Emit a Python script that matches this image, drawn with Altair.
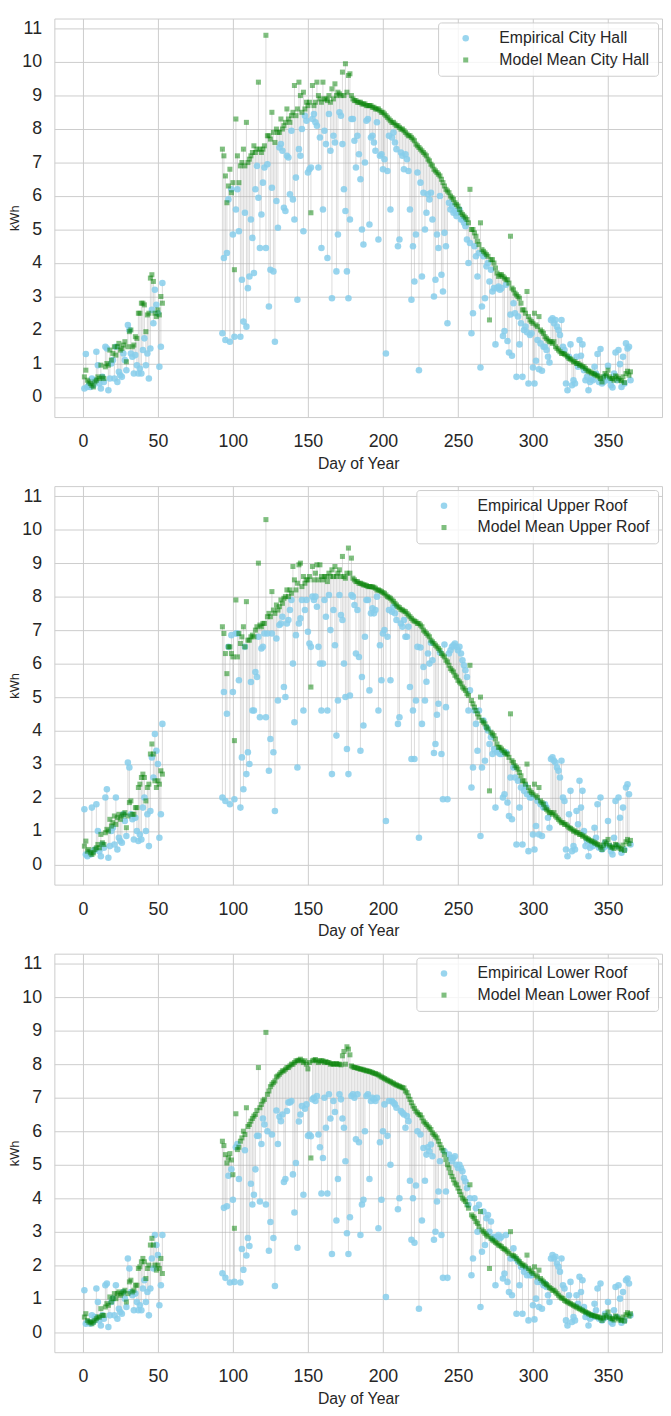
import altair as alt
import pandas as pd

# ---------------- data ----------------
DAYS = list(range(1, 54)) + list(range(93, 366))
X_TICKS = [0, 50, 100, 150, 200, 250, 300, 350]
Y_TICKS = list(range(0, 12))
SITES = ["City Hall", "Upper Roof", "Lower Roof"]

# ---- City Hall ----
EMP_CITY_EARLY = [
    0.25, 1.28, 0.3, 0.35, 0.3, 0.55, 0.35, 0.5, 1.35, 0.95,
    0.4, 0.25, 0.6, 0.45, 1.5, 1.45, 0.2, 0.55, 1.0, 1.1,
    0.55, 1.5, 0.45, 0.75, 0.65, 0.6, 1.3, 1.1, 0.8, 2.15,
    2.0, 1.3, 1.2, 0.7, 1.25, 0.95, 0.7, 0.85, 0.7, 1.4,
    1.75, 0.95, 1.3, 0.55, 1.45, 2.6, 2.2, 3.2, 2.75, 2.5,
    0.9, 1.5, 3.4]
MOD_CITY_EARLY = [
    0.6, 0.8, 0.5, 0.45, 0.4, 0.35, 0.3, 0.45, 0.5, 0.6,
    0.55, 0.95, 0.6, 0.55, 0.9, 1.0, 0.95, 1.4, 1.1, 1.3,
    1.5, 1.25, 1.5, 1.6, 1.4, 1.45, 1.55, 1.65, 1.05, 1.5,
    1.95, 2.0, 1.5, 1.55, 1.8, 1.75, 2.5, 2.5, 2.8, 2.8,
    2.75, 1.95, 2.45, 2.5, 3.55, 3.65, 3.45, 2.5, 2.4, 2.6,
    2.45, 3.0, 2.8]
EMP_CITY_MAIN = [
    1.9, 4.15, 1.7, 4.3, 5.9, 1.65, 6.2, 4.85, 1.8, 5.6,
    6.2, 4.95, 1.8, 3.5, 2.25, 5.5, 2.1, 3.25, 3.6, 5.3,
    4.75, 3.7, 6.2, 6.9, 5.95, 4.45, 5.45, 6.4, 6.85, 4.45,
    6.95, 2.7, 3.8, 6.25, 3.75, 1.65, 5.85, 5.05, 7.45, 7.55,
    7.35, 5.65, 5.55, 7.2, 7.15, 6.05, 7.95, 5.9, 5.3, 6.55,
    2.9, 7.4, 7.2, 8.0, 4.95, 8.4, 8.25, 6.7, 6.8, 6.85,
    8.3, 8.45, 8.2, 8.1, 6.85, 7.75, 4.45, 5.6, 7.95, 7.55,
    4.15, 8.45, 7.35, 2.95, 7.8, 7.6, 3.75, 4.85, 8.5, 8.4,
    7.55, 6.2, 5.55, 3.75, 2.95, 5.3, 8.3, 8.3, 7.65, 6.85,
    7.8, 7.25, 6.5, 5.0, 4.55, 7.0, 8.25, 8.3, 5.15, 7.75,
    7.8, 7.6, 7.35, 8.2, 4.7, 7.2, 7.25, 6.8, 7.1, 1.3,
    6.75, 7.8, 5.6, 7.75, 7.9, 7.6, 7.4, 4.5, 4.7, 7.3,
    7.2, 6.8, 7.25, 7.1, 6.75, 5.6, 2.9, 4.5, 3.45, 4.85,
    6.7, 0.8, 6.4, 3.6, 6.1, 5.0, 5.5, 6.05, 5.9, 6.1,
    5.3, 3.0, 3.5, 4.85, 4.45, 6.0, 3.65, 3.15, 4.9, 4.5,
    2.2, 5.8, 5.6, 5.7, 5.5, 5.55, 5.4, 5.5, 5.6, 5.3,
    5.3, 5.2, 5.1, 4.7, 4.0, 4.6, 1.9, 2.5, 4.5, 4.2,
    3.6, 4.3, 0.88, 2.7, 4.2, 2.95, 3.9, 4.0, 3.45, 3.8,
    3.15, 3.25, 1.57, 3.25, 3.3, 3.2, 3.25, 1.82, 1.97, 3.35,
    1.67, 1.33, 2.46, 1.23, 2.8, 2.5, 0.6, 2.4, 1.57, 2.2,
    0.6, 2.0, 2.1, 1.93, 0.4, 1.85, 1.9, 0.88, 0.4, 1.08,
    1.7, 0.83, 1.6, 0.78, 1.5, 1.5, 1.4, 1.2, 1.03, 2.3,
    2.35, 2.2, 2.3, 2.1, 2.0, 1.85, 2.3, 1.5, 1.4, 0.4,
    0.2, 1.2, 1.57, 0.35, 0.5, 0.4, 1.2, 0.9, 1.7, 1.23,
    1.57, 0.8, 0.5, 0.6, 0.2, 0.45, 0.53, 0.5, 0.9, 0.7,
    1.28, 0.45, 1.43, 0.4, 0.45, 0.6, 0.5, 0.93, 0.5, 0.35,
    0.28, 0.7, 1.33, 0.5, 1.4, 0.98, 0.3, 1.2, 0.4, 1.6,
    1.45, 1.5, 0.5]
MOD_CITY_MAIN = [
    7.4, 7.2, 6.6, 5.8, 6.3, 6.8, 6.1, 6.4, 3.8, 8.3,
    7.2, 6.4, 6.9, 7.0, 7.4, 6.9, 8.2, 7.0, 7.1, 7.2,
    7.3, 7.5, 7.3, 7.4, 9.4, 7.4, 7.3, 7.4, 7.5, 10.8,
    7.8, 7.8, 7.7, 8.5, 7.9, 7.6, 8.0, 7.9, 7.9, 8.3,
    8.0, 8.1, 8.2, 8.6, 8.3, 8.2, 8.4, 8.5, 9.3, 8.4,
    8.6, 9.4, 9.0, 8.5, 9.1, 8.6, 8.8, 8.7, 8.8, 5.5,
    9.3, 8.7, 8.8, 9.4, 9.0, 8.9, 8.8, 9.4, 8.9, 8.9,
    8.85, 9.0, 8.8, 9.2, 8.9, 9.35, 9.0, 9.1, 9.05, 9.0,
    9.7, 9.0, 9.95, 9.1, 9.6, 9.65, 9.0, 8.9, 8.85, 8.85,
    8.8, 8.8, 8.8, 8.75, 8.75, 8.75, 8.7, 8.7, 8.7, 8.7,
    8.65, 8.65, 8.6, 8.6, 8.6, 8.55, 8.5, 8.5, 8.45, 8.4,
    8.35, 8.3, 8.25, 8.2, 8.2, 8.15, 8.1, 8.1, 8.05, 8.0,
    8.0, 7.95, 7.9, 7.85, 7.8, 7.8, 7.75, 7.7, 7.65, 7.55,
    7.5, 7.45, 7.4, 7.35, 7.3, 7.25, 7.2, 7.1, 7.05, 6.95,
    6.9, 6.8, 6.75, 6.7, 6.65, 6.6, 6.5, 6.4, 6.3, 6.2,
    6.15, 6.1, 6.0, 5.95, 5.9, 5.8, 5.75, 5.7, 5.6, 5.5,
    5.45, 5.4, 5.35, 5.3, 5.2, 6.2, 5.0, 5.0, 4.9, 4.8,
    4.65, 4.55, 5.2, 4.4, 4.35, 4.3, 4.25, 4.2, 2.3, 4.1,
    4.1, 4.0, 3.85, 3.7, 3.6, 3.65, 3.65, 3.6, 3.55, 3.5,
    3.5, 3.4, 4.8, 3.25, 3.2, 3.1, 3.05, 3.0, 2.95, 2.8,
    2.6, 2.6, 2.5, 3.15, 2.4, 2.3, 2.25, 2.2, 2.5, 2.15,
    2.1, 2.4, 2.0, 1.95, 1.9, 1.8, 1.75, 1.7, 1.65, 1.65,
    1.6, 1.65, 1.5, 1.45, 1.4, 1.35, 1.3, 1.3, 1.28, 1.25,
    1.2, 1.15, 1.13, 1.1, 1.05, 1.05, 1.0, 1.0, 0.95, 0.95,
    0.9, 0.9, 0.85, 0.8, 0.77, 0.75, 0.72, 0.7, 0.68, 0.65,
    0.63, 0.6, 0.55, 0.45, 0.6, 0.7, 0.65, 0.8, 0.6, 0.55,
    0.55, 0.5, 0.63, 0.6, 0.55, 0.5, 0.48, 0.6, 0.43, 0.7,
    0.77, 0.65, 0.75]

# ---- Upper Roof ----
EMP_UPPER_EARLY = [
    1.65, 0.3, 0.25, 0.35, 0.3, 1.7, 0.4, 0.45, 1.8, 1.0,
    0.4, 0.25, 0.6, 0.5, 2.0, 2.25, 0.2, 0.55, 1.0, 1.1,
    0.6, 2.0, 0.45, 0.8, 0.7, 0.65, 1.5, 1.3, 0.85, 3.05,
    2.9, 1.5, 1.35, 0.75, 1.4, 1.0, 0.7, 0.9, 0.75, 1.7,
    2.0, 1.0, 1.5, 0.55, 1.6, 3.2, 2.6, 3.9, 3.4, 3.0,
    0.8, 1.5, 4.2]
MOD_UPPER_EARLY = [
    0.55, 0.7, 0.4, 0.45, 0.35, 0.3, 0.35, 0.45, 0.5, 0.6,
    0.5, 0.9, 0.65, 0.6, 0.95, 1.05, 1.0, 1.35, 1.15, 1.25,
    1.45, 1.2, 1.4, 1.5, 1.35, 1.45, 1.5, 1.55, 1.1, 1.45,
    1.85, 1.9, 1.5, 1.5, 1.7, 1.7, 2.3, 2.4, 2.6, 2.7,
    2.6, 1.9, 2.3, 2.4, 3.3, 3.6, 3.3, 2.5, 2.3, 2.5,
    2.4, 2.8, 2.7]
EMP_UPPER_MAIN = [
    2.0, 5.15, 1.9, 4.5, 6.5, 1.8, 6.85, 5.15, 1.95, 6.9,
    6.9, 5.5, 1.7, 3.2, 2.25, 6.5, 2.7, 3.35, 3.0, 5.45,
    4.6, 4.6, 5.75, 5.6, 6.8, 4.4, 6.45, 6.5, 6.9, 4.4,
    6.9, 2.8, 3.75, 6.9, 3.35, 1.6, 6.75, 4.9, 7.15, 7.2,
    7.4, 5.3, 5.0, 7.2, 7.3, 7.6, 7.9, 6.0, 4.25, 6.85,
    2.9, 7.2, 7.35, 7.9, 4.6, 7.6, 7.9, 6.95, 6.6, 6.5,
    8.0, 7.9, 8.0, 7.7, 6.5, 6.0, 4.6, 6.0, 7.9, 7.4,
    4.6, 8.05, 7.0, 2.7, 7.6, 6.55, 3.85, 4.9, 8.05, 7.45,
    7.3, 6.0, 5.0, 3.45, 2.7, 5.05, 8.05, 8.0, 7.75, 6.3,
    7.6, 6.2, 3.4, 5.6, 4.15, 6.8, 7.9, 7.9, 5.2, 7.5,
    7.65, 7.5, 7.6, 8.0, 4.6, 6.55, 5.5, 6.9, 7.0, 1.3,
    6.8, 7.6, 5.5, 7.55, 7.7, 7.5, 7.3, 4.2, 4.4, 7.2,
    7.1, 7.3, 6.8, 6.8, 7.1, 5.3, 3.15, 4.6, 3.15, 4.9,
    6.5, 0.8, 6.48, 4.2, 5.9, 4.9, 5.46, 6.3, 6.0, 6.62,
    6.1, 3.33, 3.6, 4.47, 4.8, 6.33, 3.3, 1.95, 6.57, 4.7,
    1.95, 6.3, 6.4, 6.5, 6.55, 6.6, 6.5, 6.4, 6.5, 6.3,
    6.1, 5.95, 5.8, 5.6, 4.6, 5.2, 2.3, 2.9, 4.6, 4.2,
    3.4, 4.6, 0.85, 2.9, 4.3, 3.1, 4.1, 4.0, 3.6, 3.8,
    3.3, 3.45, 1.7, 3.35, 3.4, 3.3, 3.3, 2.0, 2.1, 3.35,
    1.85, 1.45, 2.6, 1.35, 2.9, 2.6, 0.6, 2.5, 1.7, 2.3,
    0.6, 2.2, 2.35, 2.1, 0.4, 2.0, 2.0, 0.9, 0.45, 1.15,
    1.9, 0.9, 1.8, 0.85, 1.7, 1.8, 1.7, 1.4, 1.1, 3.15,
    3.2, 3.1, 3.05, 2.9, 2.8, 2.6, 3.1, 2.0, 1.9, 0.45,
    0.25, 1.5, 2.2, 0.4, 0.55, 0.45, 1.6, 1.2, 2.5, 1.7,
    2.2, 1.0, 0.55, 0.7, 0.25, 0.5, 0.6, 0.55, 1.1, 0.8,
    1.8, 0.5, 2.0, 0.45, 0.5, 0.65, 0.55, 1.3, 0.55, 0.4,
    0.3, 0.8, 1.9, 0.55, 2.0, 1.4, 0.35, 1.7, 0.45, 2.3,
    2.4, 2.1, 0.6]
MOD_UPPER_MAIN = [
    7.1, 6.9, 6.3, 5.7, 6.5, 6.5, 6.3, 6.2, 3.7, 7.9,
    6.2, 6.9, 6.6, 6.8, 7.1, 6.5, 7.85, 6.7, 6.7, 6.8,
    6.85, 6.8, 7.0, 7.1, 9.0, 7.15, 7.1, 7.2, 7.2, 10.3,
    7.4, 7.5, 7.4, 8.15, 7.6, 7.5, 7.75, 7.6, 7.7, 7.9,
    7.8, 7.95, 8.0, 8.2, 8.0, 8.2, 8.1, 8.9, 8.5, 8.2,
    8.4, 8.95, 9.0, 8.3, 8.6, 8.4, 8.5, 8.5, 8.6, 5.3,
    8.9, 8.5, 8.7, 8.95, 8.5, 8.95, 8.6, 8.5, 8.6, 8.6,
    8.45, 8.7, 8.6, 8.8, 8.6, 8.9, 8.6, 8.7, 8.8, 8.6,
    9.2, 8.6, 8.55, 8.7, 9.45, 8.7, 9.15, 8.55, 8.5, 8.45,
    8.45, 8.4, 8.4, 8.38, 8.35, 8.35, 8.33, 8.3, 8.3, 8.3,
    8.29, 8.28, 8.25, 8.2, 8.2, 8.18, 8.15, 8.12, 8.1, 8.05,
    8.0, 7.98, 7.95, 7.9, 7.86, 7.8, 7.75, 7.7, 7.67, 7.62,
    7.6, 7.57, 7.55, 7.5, 7.45, 7.4, 7.35, 7.3, 7.27, 7.25,
    7.2, 7.2, 7.15, 7.1, 7.0, 6.95, 6.9, 6.85, 6.8, 6.7,
    6.65, 6.6, 6.55, 6.5, 6.45, 6.4, 6.3, 6.25, 6.2, 6.1,
    6.05, 5.95, 5.85, 5.8, 5.75, 5.65, 5.6, 5.5, 5.45, 5.4,
    5.3, 5.25, 5.2, 5.1, 5.05, 5.95, 4.9, 4.8, 4.7, 4.6,
    4.5, 4.4, 5.0, 4.3, 4.25, 4.2, 4.1, 4.05, 2.2, 3.95,
    3.9, 3.85, 3.75, 3.6, 3.5, 3.5, 3.45, 3.4, 3.35, 3.3,
    3.3, 3.2, 4.5, 3.1, 3.05, 2.95, 2.9, 2.85, 2.75, 2.65,
    2.5, 2.5, 2.4, 3.0, 2.3, 2.2, 2.15, 2.1, 2.4, 2.05,
    2.0, 2.3, 1.9, 1.85, 1.8, 1.7, 1.65, 1.6, 1.55, 1.55,
    1.5, 1.55, 1.45, 1.4, 1.35, 1.3, 1.25, 1.25, 1.2, 1.2,
    1.15, 1.1, 1.08, 1.05, 1.0, 1.0, 0.95, 0.95, 0.9, 0.9,
    0.85, 0.85, 0.8, 0.78, 0.75, 0.72, 0.7, 0.68, 0.65, 0.63,
    0.6, 0.58, 0.52, 0.45, 0.58, 0.68, 0.62, 0.75, 0.58, 0.52,
    0.52, 0.48, 0.6, 0.58, 0.52, 0.48, 0.45, 0.58, 0.42, 0.68,
    0.75, 0.62, 0.72]

# ---- Lower Roof ----
EMP_LOWER_EARLY = [
    1.25, 0.25, 0.3, 0.3, 0.25, 0.5, 0.3, 0.45, 1.3, 0.9,
    0.35, 0.2, 0.5, 0.4, 1.4, 1.45, 0.15, 0.5, 0.9, 1.0,
    0.5, 1.4, 0.4, 0.7, 0.6, 0.55, 1.2, 1.0, 0.75, 2.2,
    1.9, 1.2, 1.1, 0.65, 1.15, 0.9, 0.65, 0.8, 0.65, 1.3,
    1.55, 0.9, 1.2, 0.5, 1.3, 2.2, 1.9, 2.9, 2.6, 2.3,
    0.8, 1.4, 2.9]
MOD_LOWER_EARLY = [
    0.45, 0.55, 0.35, 0.3, 0.3, 0.25, 0.3, 0.35, 0.4, 0.45,
    0.45, 0.7, 0.5, 0.5, 0.75, 0.85, 0.8, 1.05, 0.9, 1.0,
    1.15, 1.0, 1.15, 1.2, 1.1, 1.15, 1.2, 1.25, 0.9, 1.15,
    1.5, 1.55, 1.2, 1.25, 1.4, 1.4, 1.9, 1.95, 2.1, 2.2,
    2.1, 1.6, 1.9, 2.0, 2.6, 2.8, 2.6, 2.0, 1.85, 2.0,
    1.9, 2.2, 1.75]
EMP_LOWER_MAIN = [
    1.76, 3.71, 1.62, 3.76, 4.67, 1.48, 4.86, 3.95, 1.5, 5.52,
    5.62, 4.57, 1.48, 2.48, 1.86, 5.43, 2.29, 2.81, 2.57, 4.43,
    3.81, 4.1, 4.86, 5.86, 5.86, 3.9, 5.62, 6.38, 6.2, 3.81,
    6.0, 2.43, 3.29, 5.9, 2.81, 1.38, 6.62, 5.62, 6.43, 6.3,
    6.5, 4.48, 4.57, 6.6, 6.86, 6.86, 6.9, 4.71, 3.57, 5.05,
    2.52, 6.29, 6.5, 6.75, 4.1, 6.67, 6.8, 5.86, 5.9, 5.85,
    6.95, 7.0, 6.9, 7.05, 5.9, 5.52, 4.14, 5.2, 7.0, 6.1,
    4.14, 7.1, 6.38, 2.33, 6.9, 6.57, 3.33, 4.57, 7.1, 6.95,
    6.38, 6.1, 5.1, 2.95, 2.33, 3.43, 7.05, 7.1, 7.0, 5.76,
    7.1, 5.67, 2.9, 3.81, 3.95, 6.0, 7.05, 7.1, 4.57, 6.9,
    7.0, 6.95, 6.9, 7.0, 3.1, 5.67, 3.95, 6.0, 6.8, 1.05,
    5.86, 6.9, 5.0, 6.9, 6.85, 6.8, 6.7, 3.67, 4.0, 6.6,
    6.55, 6.5, 6.1, 6.45, 6.3, 4.52, 2.76, 4.0, 2.67, 4.38,
    6.0, 0.7, 5.9, 3.33, 5.5, 4.52, 5.3, 5.52, 5.4, 5.6,
    5.25, 2.76, 3.0, 3.9, 4.2, 5.1, 2.9, 1.62, 5.4, 4.2,
    1.62, 5.3, 5.2, 5.1, 5.2, 5.25, 5.0, 4.9, 5.0, 4.9,
    4.8, 4.6, 4.5, 4.3, 3.8, 4.0, 1.7, 2.2, 4.0, 3.7,
    3.0, 3.8, 0.75, 2.4, 3.6, 2.6, 3.4, 3.5, 3.0, 3.3,
    2.8, 2.85, 1.4, 2.85, 2.9, 2.8, 2.85, 1.6, 1.75, 2.9,
    1.5, 1.2, 2.2, 1.1, 2.5, 2.2, 0.55, 2.1, 1.4, 1.95,
    0.55, 1.8, 1.9, 1.7, 0.35, 1.7, 1.7, 0.8, 0.38, 1.0,
    1.5, 0.75, 1.5, 0.7, 1.4, 1.45, 1.35, 1.1, 0.9, 2.2,
    2.3, 2.2, 2.25, 2.05, 1.95, 1.8, 2.2, 1.4, 1.3, 0.35,
    0.2, 1.1, 1.5, 0.3, 0.45, 0.35, 1.1, 0.85, 1.65, 1.2,
    1.55, 0.75, 0.45, 0.55, 0.2, 0.4, 0.5, 0.45, 0.85, 0.65,
    1.3, 0.4, 1.45, 0.35, 0.4, 0.55, 0.45, 0.9, 0.45, 0.3,
    0.25, 0.65, 1.35, 0.45, 1.4, 1.0, 0.28, 1.2, 0.35, 1.55,
    1.6, 1.45, 0.5]
MOD_LOWER_MAIN = [
    5.7, 5.57, 5.3, 5.05, 5.2, 5.33, 5.14, 4.7, 3.1, 6.52,
    5.45, 5.52, 5.7, 5.8, 6.0, 5.9, 6.7, 6.14, 6.2, 6.3,
    6.38, 6.45, 6.5, 6.62, 7.9, 6.7, 6.8, 6.9, 6.95, 8.95,
    7.1, 7.2, 7.33, 7.4, 7.45, 7.5, 7.62, 7.65, 7.7, 7.75,
    7.8, 7.8, 7.85, 7.9, 7.9, 7.95, 8.0, 8.0, 8.05, 8.1,
    8.1, 8.12, 8.15, 8.1, 8.05, 8.1, 8.0, 7.86, 8.05, 5.2,
    8.1, 8.12, 8.14, 8.1, 8.05, 8.1, 8.1, 8.1, 8.05, 8.08,
    8.05, 8.05, 8.0, 8.02, 8.0, 8.0, 8.02, 8.0, 8.0, 7.98,
    8.25, 8.38, 8.0, 8.52, 8.45, 8.28, 7.95, 7.92, 7.9, 7.9,
    7.88, 7.87, 7.85, 7.85, 7.83, 7.82, 7.8, 7.8, 7.78, 7.77,
    7.75, 7.73, 7.72, 7.7, 7.68, 7.65, 7.62, 7.6, 7.57, 7.55,
    7.52, 7.5, 7.48, 7.45, 7.43, 7.4, 7.38, 7.36, 7.34, 7.32,
    7.3, 7.29, 7.2, 7.15, 7.05, 6.95, 6.85, 6.75, 6.68, 6.6,
    6.55, 6.5, 6.48, 6.4, 6.3, 6.25, 6.2, 6.15, 6.1, 6.05,
    5.95, 5.9, 5.85, 5.8, 5.7, 5.6, 5.5, 5.43, 5.3, 5.15,
    5.0, 4.9, 4.76, 4.65, 4.55, 4.45, 4.4, 4.3, 4.2, 4.1,
    4.0, 3.95, 3.9, 3.8, 3.7, 4.4, 3.5, 3.45, 3.4, 3.3,
    3.25, 3.15, 3.6, 3.05, 3.0, 2.95, 2.9, 2.85, 1.9, 2.8,
    2.75, 2.72, 2.68, 2.65, 2.6, 2.58, 2.55, 2.5, 2.48, 2.45,
    2.4, 2.35, 3.0, 2.3, 2.28, 2.25, 2.2, 2.15, 2.1, 2.05,
    2.0, 2.0, 1.95, 2.3, 1.9, 1.85, 1.8, 1.75, 1.95, 1.7,
    1.65, 1.85, 1.6, 1.55, 1.5, 1.45, 1.42, 1.38, 1.33, 1.3,
    1.25, 1.25, 1.2, 1.15, 1.1, 1.05, 1.02, 1.0, 0.95, 0.92,
    0.9, 0.87, 0.85, 0.82, 0.8, 0.77, 0.75, 0.72, 0.7, 0.67,
    0.65, 0.62, 0.6, 0.58, 0.55, 0.53, 0.5, 0.5, 0.48, 0.47,
    0.45, 0.45, 0.42, 0.35, 0.42, 0.5, 0.45, 0.6, 0.45, 0.4,
    0.4, 0.36, 0.48, 0.45, 0.4, 0.36, 0.35, 0.45, 0.33, 0.52,
    0.58, 0.48, 0.55]

EMPIRICAL = {
    "City Hall": EMP_CITY_EARLY + EMP_CITY_MAIN,
    "Upper Roof": EMP_UPPER_EARLY + EMP_UPPER_MAIN,
    "Lower Roof": EMP_LOWER_EARLY + EMP_LOWER_MAIN,
}
MODEL = {
    "City Hall": MOD_CITY_EARLY + MOD_CITY_MAIN,
    "Upper Roof": MOD_UPPER_EARLY + MOD_UPPER_MAIN,
    "Lower Roof": MOD_LOWER_EARLY + MOD_LOWER_MAIN,
}

FONT = "Liberation Sans"
EMP_COLOR = "#87CEEB"
MOD_COLOR = "#008000"

X_SCALE = alt.Scale(domain=[-19, 386], nice=False, zero=False)
Y_SCALE = alt.Scale(domain=[-0.6, 11.3], nice=False, zero=False)
X_AXIS = alt.Axis(values=X_TICKS, title="Day of Year", labelPadding=16, titlePadding=5,
                  titleFontSize=16)
Y_AXIS = alt.Axis(values=Y_TICKS, title="kWh", labelPadding=13, titlePadding=0,
                  titleFontSize=13)


def panel(site):
    emp = EMPIRICAL[site]
    mod = MODEL[site]
    assert len(emp) == len(DAYS), (site, "emp", len(emp))
    assert len(mod) == len(DAYS), (site, "mod", len(mod))
    e_lab = f"Empirical {site}"
    m_lab = f"Model Mean {site}"
    wide = pd.DataFrame({"day": DAYS, "emp": emp, "mod": mod})
    long = pd.concat([
        pd.DataFrame({"day": DAYS, "kwh": emp, "series": e_lab}),
        pd.DataFrame({"day": DAYS, "kwh": mod, "series": m_lab}),
    ], ignore_index=True)

    legend = alt.Legend(title=None, orient="top-right", offset=4)
    dom = [e_lab, m_lab]

    rules = alt.Chart(wide).mark_rule(color="#b0b0b0", strokeWidth=1, opacity=0.45).encode(
        x=alt.X("day:Q", scale=X_SCALE, axis=X_AXIS),
        y=alt.Y("emp:Q", scale=Y_SCALE, axis=Y_AXIS),
        y2="mod:Q",
    )
    pts = alt.Chart(long).mark_point(filled=True, strokeWidth=0).encode(
        x=alt.X("day:Q", scale=X_SCALE, axis=X_AXIS),
        y=alt.Y("kwh:Q", scale=Y_SCALE, axis=Y_AXIS),
        color=alt.Color("series:N", scale=alt.Scale(domain=dom, range=[EMP_COLOR, MOD_COLOR]), legend=legend),
        shape=alt.Shape("series:N", scale=alt.Scale(domain=dom, range=["circle", "square"]), legend=legend),
        opacity=alt.Opacity("series:N", scale=alt.Scale(domain=dom, range=[0.85, 0.5]), legend=legend),
        size=alt.Size("series:N", scale=alt.Scale(domain=dom, range=[44, 26]), legend=legend),
    )
    return alt.layer(rules, pts).properties(width=616, height=404)


chart = alt.vconcat(*[panel(s) for s in SITES], spacing=13).resolve_scale(
    color="independent", shape="independent", opacity="independent", size="independent"
).resolve_legend(
    color="independent", shape="independent", opacity="independent", size="independent"
).properties(
    padding=0, background="white"
).configure_view(
    stroke="#cccccc", strokeWidth=1
).configure_axis(
    labelFont=FONT, titleFont=FONT, labelFontSize=18,
    labelColor="#262626", titleColor="#262626", titleFontWeight="normal",
    gridColor="#cccccc", gridWidth=1, domain=False, ticks=False,
).configure_legend(
    labelFont=FONT, labelFontSize=16, labelColor="#262626", labelLimit=400,
    fillColor="rgba(255,255,255,0.8)", strokeColor="#cccccc", padding=8,
    cornerRadius=3, rowPadding=6, symbolOffset=12, labelOffset=26,
)

chart.save("out.html", embed_options={"renderer": "svg", "actions": False})
